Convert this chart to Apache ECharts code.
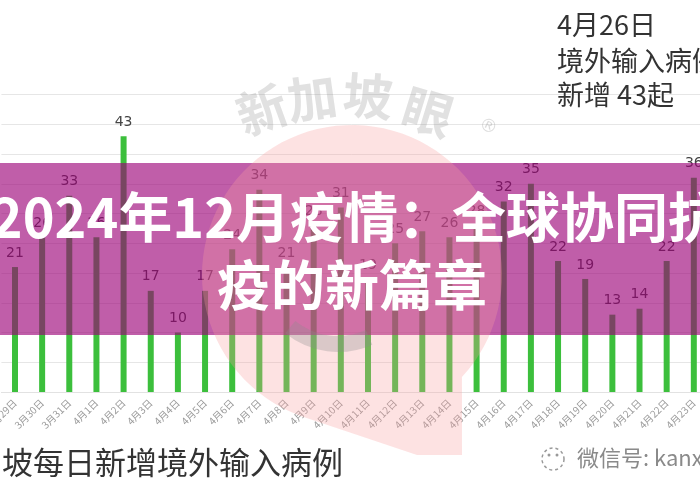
<!DOCTYPE html>
<html>
<head>
<meta charset="utf-8">
<script src="https://cdn.jsdelivr.net/npm/echarts@6/dist/echarts.min.js"></script>
<style>
html,body{margin:0;padding:0;background:#ffffff;}
#c{width:700px;height:500px;}
</style>
</head>
<body>
<div id="c"></div>
<script>
// ---- data ----
const categories = ['3月29日','3月30日','3月31日','4月1日','4月2日','4月3日','4月4日','4月5日','4月6日',
  '4月7日','4月8日','4月9日','4月10日','4月11日','4月12日','4月13日','4月14日','4月15日','4月16日',
  '4月17日','4月18日','4月19日','4月20日','4月21日','4月22日','4月23日'];
const importedCases = [21,26,33,26,43,17,10,17,24,34,21,28,31,19,25,27,26,28,32,35,22,19,13,14,22,36];
const yAxisMin = 0;
const yAxisMax = 50;
const yAxisInterval = 5;

const titleLine1a = '2024年12月';
const titleLine1b = '疫情：全球协同抗';
const titleLine2 = '疫的新篇章';
const noteLines = ['4月26日', '境外输入病例', '新增 43起'];
const chartCaption = '新加坡每日新增境外输入病例';
const wechatText = '微信号: kanxinjiapo';
const watermarkChars = ['新', '加', '坡', '眼'];

// ---- decorative logo outline (circle + tail), not data ----
function logoPoints() {
  const cx = 352, cy = 275, r = 150;
  const pts = [];
  const a0 = 1.925, a1 = 2 * Math.PI + 0.748;
  for (let i = 0; i <= 80; i++) {
    const a = a0 + (a1 - a0) * i / 80;
    pts.push([cx + r * Math.cos(a), cy + r * Math.sin(a)]);
  }
  pts.push([462, 455]);
  pts.push([417, 455]);
  return pts;
}

const cjk = '"Noto Sans CJK SC", "Noto Sans", sans-serif';
const wmPos = [[262, 110, 0.35], [312, 98, 0.14], [368, 96, -0.08], [428, 112, -0.3]];
const graphics = [];

// magenta banner
graphics.push({
  type: 'rect', z: 100,
  shape: { x: 0, y: 163, width: 700, height: 172 },
  style: { fill: 'rgba(155,0,118,0.63)' }
});
// logo
graphics.push({
  type: 'polygon', z: 110,
  shape: { points: logoPoints() },
  style: { fill: 'rgba(248,160,160,0.3)' }
});
graphics.push({
  type: 'arc', z: 111,
  shape: { cx: 338, cy: 268, r: 76, startAngle: 1.15, endAngle: 2.25 },
  style: { stroke: 'rgba(140,140,140,0.3)', lineWidth: 16, fill: null }
});
// watermark
watermarkChars.forEach(function (ch, i) {
  graphics.push({
    type: 'text', z: 112, x: wmPos[i][0], y: wmPos[i][1], rotation: wmPos[i][2],
    style: { text: ch, fill: 'rgba(140,140,140,0.26)', font: 'bold 50px ' + cjk,
      textAlign: 'center', textVerticalAlign: 'middle' }
  });
});
graphics.push({
  type: 'text', z: 112, x: 488, y: 127, rotation: -0.45,
  style: { text: '®', fill: 'rgba(140,140,140,0.3)', font: '18px "DejaVu Sans", sans-serif',
    textAlign: 'center', textVerticalAlign: 'middle' }
});
// title
const titleFont = 'bold 54px ' + cjk;
const titleShadow = { shadowBlur: 4, shadowColor: 'rgba(60,0,40,0.45)' };
graphics.push({
  type: 'text', z: 130, x: 290, y: 217,
  style: Object.assign({ text: titleLine1a, fill: '#ffffff', font: titleFont,
    textAlign: 'right', textVerticalAlign: 'middle' }, titleShadow)
});
graphics.push({
  type: 'text', z: 130, x: 290, y: 217,
  style: Object.assign({ text: titleLine1b, fill: '#ffffff', font: titleFont,
    textAlign: 'left', textVerticalAlign: 'middle' }, titleShadow)
});
graphics.push({
  type: 'text', z: 130, x: 217, y: 285,
  style: Object.assign({ text: titleLine2, fill: '#ffffff', font: titleFont,
    textAlign: 'left', textVerticalAlign: 'middle' }, titleShadow)
});
// top-right note
const noteY = [25, 61, 95];
noteLines.forEach(function (t, i) {
  graphics.push({
    type: 'text', z: 120, x: 557, y: noteY[i],
    style: { text: t, fill: '#333333', font: '27px ' + cjk,
      textAlign: 'left', textVerticalAlign: 'middle' }
  });
});
// bottom caption
graphics.push({
  type: 'text', z: 120, x: -60, y: 462,
  style: { text: chartCaption, fill: '#333333', font: '31px ' + cjk,
    textAlign: 'left', textVerticalAlign: 'middle' }
});
// wechat mark
graphics.push({
  type: 'circle', z: 120,
  shape: { cx: 553, cy: 459, r: 11 },
  style: { fill: null, stroke: '#999999', lineWidth: 1.5, lineDash: [3, 3] }
});
graphics.push({
  type: 'circle', z: 120,
  shape: { cx: 549, cy: 455, r: 1.5 },
  style: { fill: '#999999' }
});
graphics.push({
  type: 'circle', z: 120,
  shape: { cx: 557, cy: 455, r: 1.5 },
  style: { fill: '#999999' }
});
graphics.push({
  type: 'text', z: 120, x: 577, y: 458,
  style: { text: wechatText, fill: '#8a8a8a', font: '22px ' + cjk,
    textAlign: 'left', textVerticalAlign: 'middle' }
});

const chart = echarts.init(document.getElementById('c'), null, { renderer: 'canvas' });
chart.setOption({
  animation: false,
  backgroundColor: '#ffffff',
  grid: { left: 1.4, top: 94.5, width: 706, height: 297.5, containLabel: false,
    outerBoundsMode: 'none' },
  xAxis: {
    type: 'category',
    data: categories,
    axisTick: { show: false },
    axisLine: { show: true, lineStyle: { color: '#e2e2e2' } },
    axisLabel: { interval: 0, rotate: 45, fontSize: 10, color: '#9a9a9a', margin: 9,
      fontFamily: cjk }
  },
  yAxis: {
    type: 'value',
    min: yAxisMin, max: yAxisMax, interval: yAxisInterval,
    axisLabel: { show: false },
    axisLine: { show: false },
    axisTick: { show: false },
    splitLine: { lineStyle: { color: '#e6e6e6', width: 1 } }
  },
  series: [{
    type: 'bar',
    data: importedCases,
    barWidth: 6,
    itemStyle: { color: '#3cbf3c' },
    label: { show: true, position: 'top', distance: 7, fontSize: 14, color: '#444444',
      fontFamily: '"DejaVu Sans", sans-serif' }
  }],
  graphic: { elements: graphics }
});
</script>
</body>
</html>
